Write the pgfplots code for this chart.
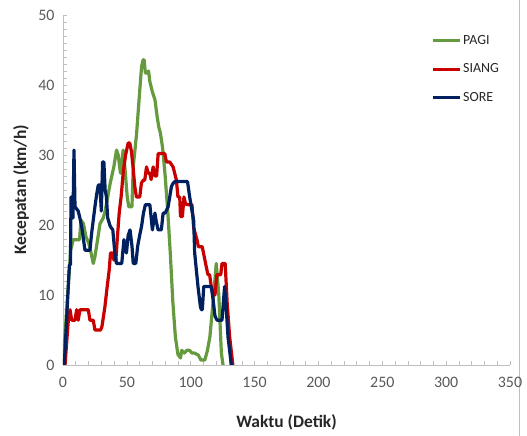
\documentclass[border=0pt]{standalone}
\usepackage{fontspec}
\setmainfont{Carlito}
\usepackage{pgfplots}
\pgfplotsset{compat=1.18}
\definecolor{pagi}{HTML}{669A3E}
\definecolor{siang}{HTML}{C80000}
\definecolor{sore}{HTML}{002060}
\definecolor{tickgray}{HTML}{595959}
\definecolor{axgray}{HTML}{BFBFBF}
\begin{document}
\begin{tikzpicture}[x=1bp,y=1bp]
\useasboundingbox (-63,-71) rectangle (464,365);
\draw[axgray, line width=0.8bp] (456,-71) -- (456,365);
\begin{axis}[
  at={(0,0)}, anchor=south west,
  width=447bp, height=350bp, scale only axis,
  xmin=0, xmax=350, ymin=0, ymax=50,
  xtick={0,50,...,350}, ytick={0,10,...,50},
  minor x tick num=4, minor y tick num=9,
  axis x line*=bottom, axis y line*=left,
  tick align=inside,
  major tick length=4bp, minor tick length=4bp,
  axis line style={draw=axgray, line width=0.8bp},
  every tick/.style={draw=axgray, line width=0.6bp},
  minor tick style={draw=axgray, line width=0.6bp},
  /pgf/number format/assume math mode=true,
  ticklabel style={font=\fontsize{16}{18}\selectfont, text=tickgray},
  xticklabel style={yshift=-9bp},
  yticklabel style={xshift=-5bp},
  xlabel={Waktu (Detik)}, ylabel={Kecepatan (km/h)},
  label style={font=\bfseries\fontsize{17.5}{20}\selectfont, text=black!85},
  xlabel style={at={(axis description cs:0.5,-0.163)}, anchor=center},
  ylabel style={at={(axis description cs:-0.094,0.5)}, anchor=center},
  legend style={at={(axis description cs:0.825,0.948)}, anchor=north west,
    xshift=-1bp,
    draw=none, fill=none, font=\fontsize{14}{16}\selectfont, text=black!85,
    row sep=14bp, inner sep=0pt},
  legend cell align=left,
  legend image code/.code={\draw[#1] (0bp,0bp) -- (27bp,0bp);},
  every axis plot/.append style={line width=3.2bp, line join=round, mark=none},
]
\addplot[pagi] coordinates {
(0,0) (6,16.4) (8,17.9) (13,17.9) (14,20.7) (16,20.2) (18,18.3) (20,17.5)
(22,16) (23.7,14.5) (25,15.5) (26.3,17) (28,19) (29,20.2) (31.5,21) (33,22)
(35,24) (37,26) (39.8,28.3) (41.9,30.7) (43.2,30) (45,27.4) (46,29) (47.1,30.7)
(48.4,28.3) (50.3,24) (51.5,22.6) (54,22.6) (55,28.3) (57.6,33) (59.6,38)
(61.5,42.6) (62.7,43.6) (63.5,43.6) (64.5,41.7) (66,41.7) (67,42) (68,40.5)
(70,39) (72,37.9) (73.7,35.5) (75,34) (76.3,33.1) (78,31) (80,27) (82,22)
(84,16) (86,9) (88,4) (90,1.5) (92,1) (93,2.1) (95,1.7) (97,2.1) (99,2.1)
(101,1.7) (103,1.7) (106,1.4) (108,0.7) (111,0.7) (113,2) (115,4) (117.4,8.8)
(120,14.5) (122,10) (124,1.7) (125.3,0)
};
\addlegendentry{PAGI}
\addplot[siang] coordinates {
(1.6,0) (4,6) (5.5,7.9) (6.8,6.4) (9.4,6.4) (10.7,7.9) (11.9,6.4) (13.3,7.9)
(19.8,7.9) (21.1,6.4) (23.7,6.4) (25,5) (29.5,5) (30.5,5.5) (32.8,8.3)
(34.6,11.2) (36.2,13.6) (37.2,16) (38.8,16) (39.8,15) (41.4,15) (42.5,18)
(44,21.7) (45.5,24) (47.1,27.4) (49,30) (51,31.7) (52.3,31.7) (53.6,30.5)
(55,28) (56.2,25.5) (57.5,24) (60.1,24) (61.4,26) (62.8,26.4) (64,26.4)
(65.4,28.3) (66.7,27.4) (68,27.4) (69,26.5) (70.6,28.3) (72,27) (73.3,27)
(74.5,30.2) (79.7,30.2) (81,29) (83.6,29) (86.2,28.3) (88.8,26.4) (90,24)
(91.4,24) (92,21.2) (93.5,21.2) (94.7,24) (96,23) (98,22.9) (101,22.9)
(102.3,19.6) (104.9,17.9) (106,16.9) (109,16.9) (110,16) (112.2,14)
(113.5,12.9) (114.8,12.9) (116.1,11.2) (117.4,10) (119,10) (120.5,12.9)
(123.5,12.9) (124.5,14.5) (127,14.5) (128.5,9) (130.5,4) (133,0)
};
\addlegendentry{SIANG}
\addplot[sore] coordinates {
(1,0) (5,14.3) (5.8,14.3) (6.3,24) (7.2,24) (7.8,21) (8.6,30.7) (9.4,22.6)
(11.9,22) (13,21.2) (14.6,19.8) (16,18) (17.2,16.4) (21.1,16.4) (22.4,18.8)
(25,22.6) (26.3,24.3) (27.6,25.7) (28.9,25.7) (30,22) (31,29) (32,29)
(33,25) (34,24) (35,21) (37,19.8) (39,19.3) (40.6,16) (41.9,14.5) (46,14.5)
(47.7,17.9) (49.7,16) (51,18.5) (52.5,19.3) (54,17) (55,14.5) (57,14.5)
(58.5,17) (60,18.5) (61.5,19.8) (63,21.7) (64.5,22.9) (68,22.9) (70,19.3)
(71,20.5) (72,21.7) (73,20.5) (74.5,19.3) (77,19.3) (78.4,21.7) (80,21.7)
(82.3,22.6) (84.9,25.5) (86,25.9) (87.5,26.2) (97.5,26.2) (99.2,24)
(101.3,21.7) (102.3,20.7) (103.1,16) (104.4,13.6) (105.7,11.2) (107.6,8.3)
(108.4,7.9) (109.1,7.9) (110.2,11.2) (116.1,11.2) (117.4,9.5) (119,7)
(120.6,6.4) (124.5,6.4) (126.5,11.2) (127.5,9) (129.2,4) (131.8,0)
};
\addlegendentry{SORE}
\end{axis}
\end{tikzpicture}
\end{document}
